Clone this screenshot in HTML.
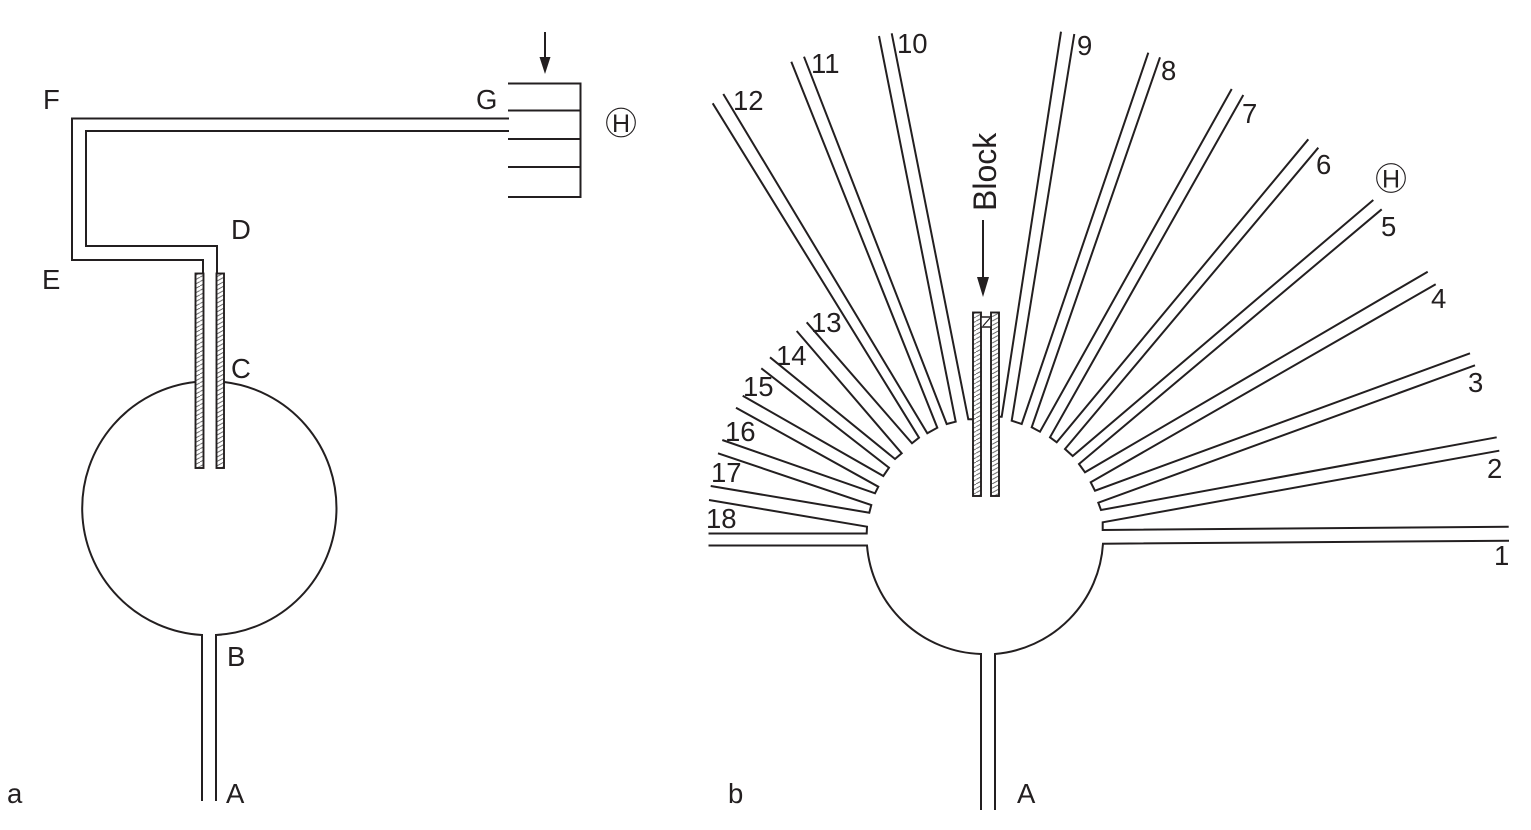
<!DOCTYPE html>
<html>
<head>
<meta charset="utf-8">
<style>
html,body{margin:0;padding:0;background:#fff;width:1531px;height:830px;overflow:hidden}
svg{display:block}
text{font-family:"Liberation Sans",sans-serif;font-size:27.500px;fill:#231f20}
.l{fill:none;stroke:#231f20;stroke-width:2;stroke-linejoin:miter}
.h{fill:url(#hatch);stroke:#231f20;stroke-width:1.900}
</style>
</head>
<body>
<svg width="1531" height="830" viewBox="0 0 1531 830" xmlns="http://www.w3.org/2000/svg">
<defs>
<pattern id="hatch" width="8" height="4.400" patternUnits="userSpaceOnUse">
<rect width="8" height="4.400" fill="#fff"/>
<path d="M-1 4.950L9 -0.550" stroke="#555" stroke-width="0.900" fill="none"/>
</pattern>
</defs>

<!-- Panel a -->
<path class="l" d="M195 382A127 127 0 0 0 202 635V801"/>
<path class="l" d="M224 382A127 127 0 0 1 216 635V801"/>
<rect class="h" x="195.500" y="273.500" width="8" height="194.500"/>
<rect class="h" x="216.500" y="273.500" width="7.500" height="194.500"/>
<path class="l" d="M509 118.500H72V260H203V273"/>
<path class="l" d="M509 131H86V246H217V273"/>
<path class="l" d="M508 83.500H580.500V197H508M508 110.500H580M508 139H580M508 167H580"/>
<path class="l" d="M545 32V62"/>
<path d="M539.500 57H550.500L545 74Z" fill="#231f20"/>
<circle cx="621" cy="122.500" r="14.300" fill="none" stroke="#231f20" stroke-width="1.100"/>
<text x="612" y="132" style="font-size:25px">H</text>

<text x="43" y="109">F</text>
<text x="476" y="109">G</text>
<text x="231" y="239">D</text>
<text x="42" y="289">E</text>
<text x="231" y="378">C</text>
<text x="227" y="666">B</text>
<text x="226" y="803">A</text>
<text x="7" y="803">a</text>

<!-- Panel b -->
<path class="l" d="M708.500 545.500H867A118 118 0 0 0 981 654V810"/>
<path class="l" d="M1509 540.700L1103 543.700A118 118 0 0 1 995 654V810"/>
<path class="l" d="M708.500 533.500H866.700L867 526.700L709 500"/>
<path class="l" d="M710.700 486L869.300 512.700L871.300 505L718 453.300"/>
<path class="l" d="M722.300 440L875 493.300L878.300 486.700L736 407.700"/>
<path class="l" d="M742.700 395.700L883.300 476L889 467.700L761.300 368.300"/>
<path class="l" d="M770 357.300L895 459L901.700 453.300L796.700 331"/>
<path class="l" d="M806.700 322.300L912 443.300L919 437.700L712.700 103.300"/>
<path class="l" d="M723.300 94L927.300 433.300L937.300 427.700L791.300 61.700"/>
<path class="l" d="M804 56.700L946.700 424L955.700 421.700L879 36"/>
<path class="l" d="M891.700 33.300L968.300 419.300H973"/>
<path class="l" d="M1061 31.700L1001.700 416.700L999 416.700"/>
<path class="l" d="M1074.300 34L1011.700 420.700L1021.700 424L1148.300 52.700"/>
<path class="l" d="M1160 57.300L1031.700 427.300L1040 431.700L1231.700 89"/>
<path class="l" d="M1243.300 95L1050 437.300L1056.700 442.300L1308.300 139.300"/>
<path class="l" d="M1318.300 147.700L1065 449L1072.700 456L1373.300 200"/>
<path class="l" d="M1381.700 209.300L1079 464L1085 472.300L1427.700 271.700"/>
<path class="l" d="M1435.700 284.300L1090.700 482.300L1095 490.700L1470 353.300"/>
<path class="l" d="M1475 365.300L1098.300 502.700L1101 510L1496.700 437.300"/>
<path class="l" d="M1499.300 450.700L1102.700 522.300V530L1508.700 526.700"/>

<rect class="h" x="973" y="312.500" width="8" height="183.500"/>
<rect class="h" x="991" y="312.500" width="8" height="183.500"/>
<rect x="981" y="317" width="10" height="10" fill="#fff" stroke="#231f20" stroke-width="1.500"/>
<path d="M983 326L990 318" stroke="#231f20" stroke-width="1.200" fill="none"/>

<path class="l" d="M983 220V282"/>
<path d="M977 277H989L983 297Z" fill="#231f20"/>
<text transform="translate(996 211) rotate(-90)" style="font-size:32px">Block</text>

<circle cx="1391" cy="178" r="14.300" fill="none" stroke="#231f20" stroke-width="1.100"/>
<text x="1382" y="187.500" style="font-size:25px">H</text>

<text x="1494" y="565">1</text>
<text x="1487" y="478">2</text>
<text x="1468" y="392">3</text>
<text x="1431" y="308">4</text>
<text x="1381" y="236">5</text>
<text x="1316" y="174">6</text>
<text x="1242" y="123">7</text>
<text x="1161" y="80">8</text>
<text x="1077" y="55">9</text>
<text x="897" y="53">10</text>
<text x="811" y="73">11</text>
<text x="733" y="110">12</text>
<text x="811" y="332">13</text>
<text x="776" y="365">14</text>
<text x="743" y="396">15</text>
<text x="725" y="441">16</text>
<text x="711" y="482">17</text>
<text x="706" y="528">18</text>
<text x="1017" y="803">A</text>
<text x="728" y="803">b</text>
</svg>
</body>
</html>
